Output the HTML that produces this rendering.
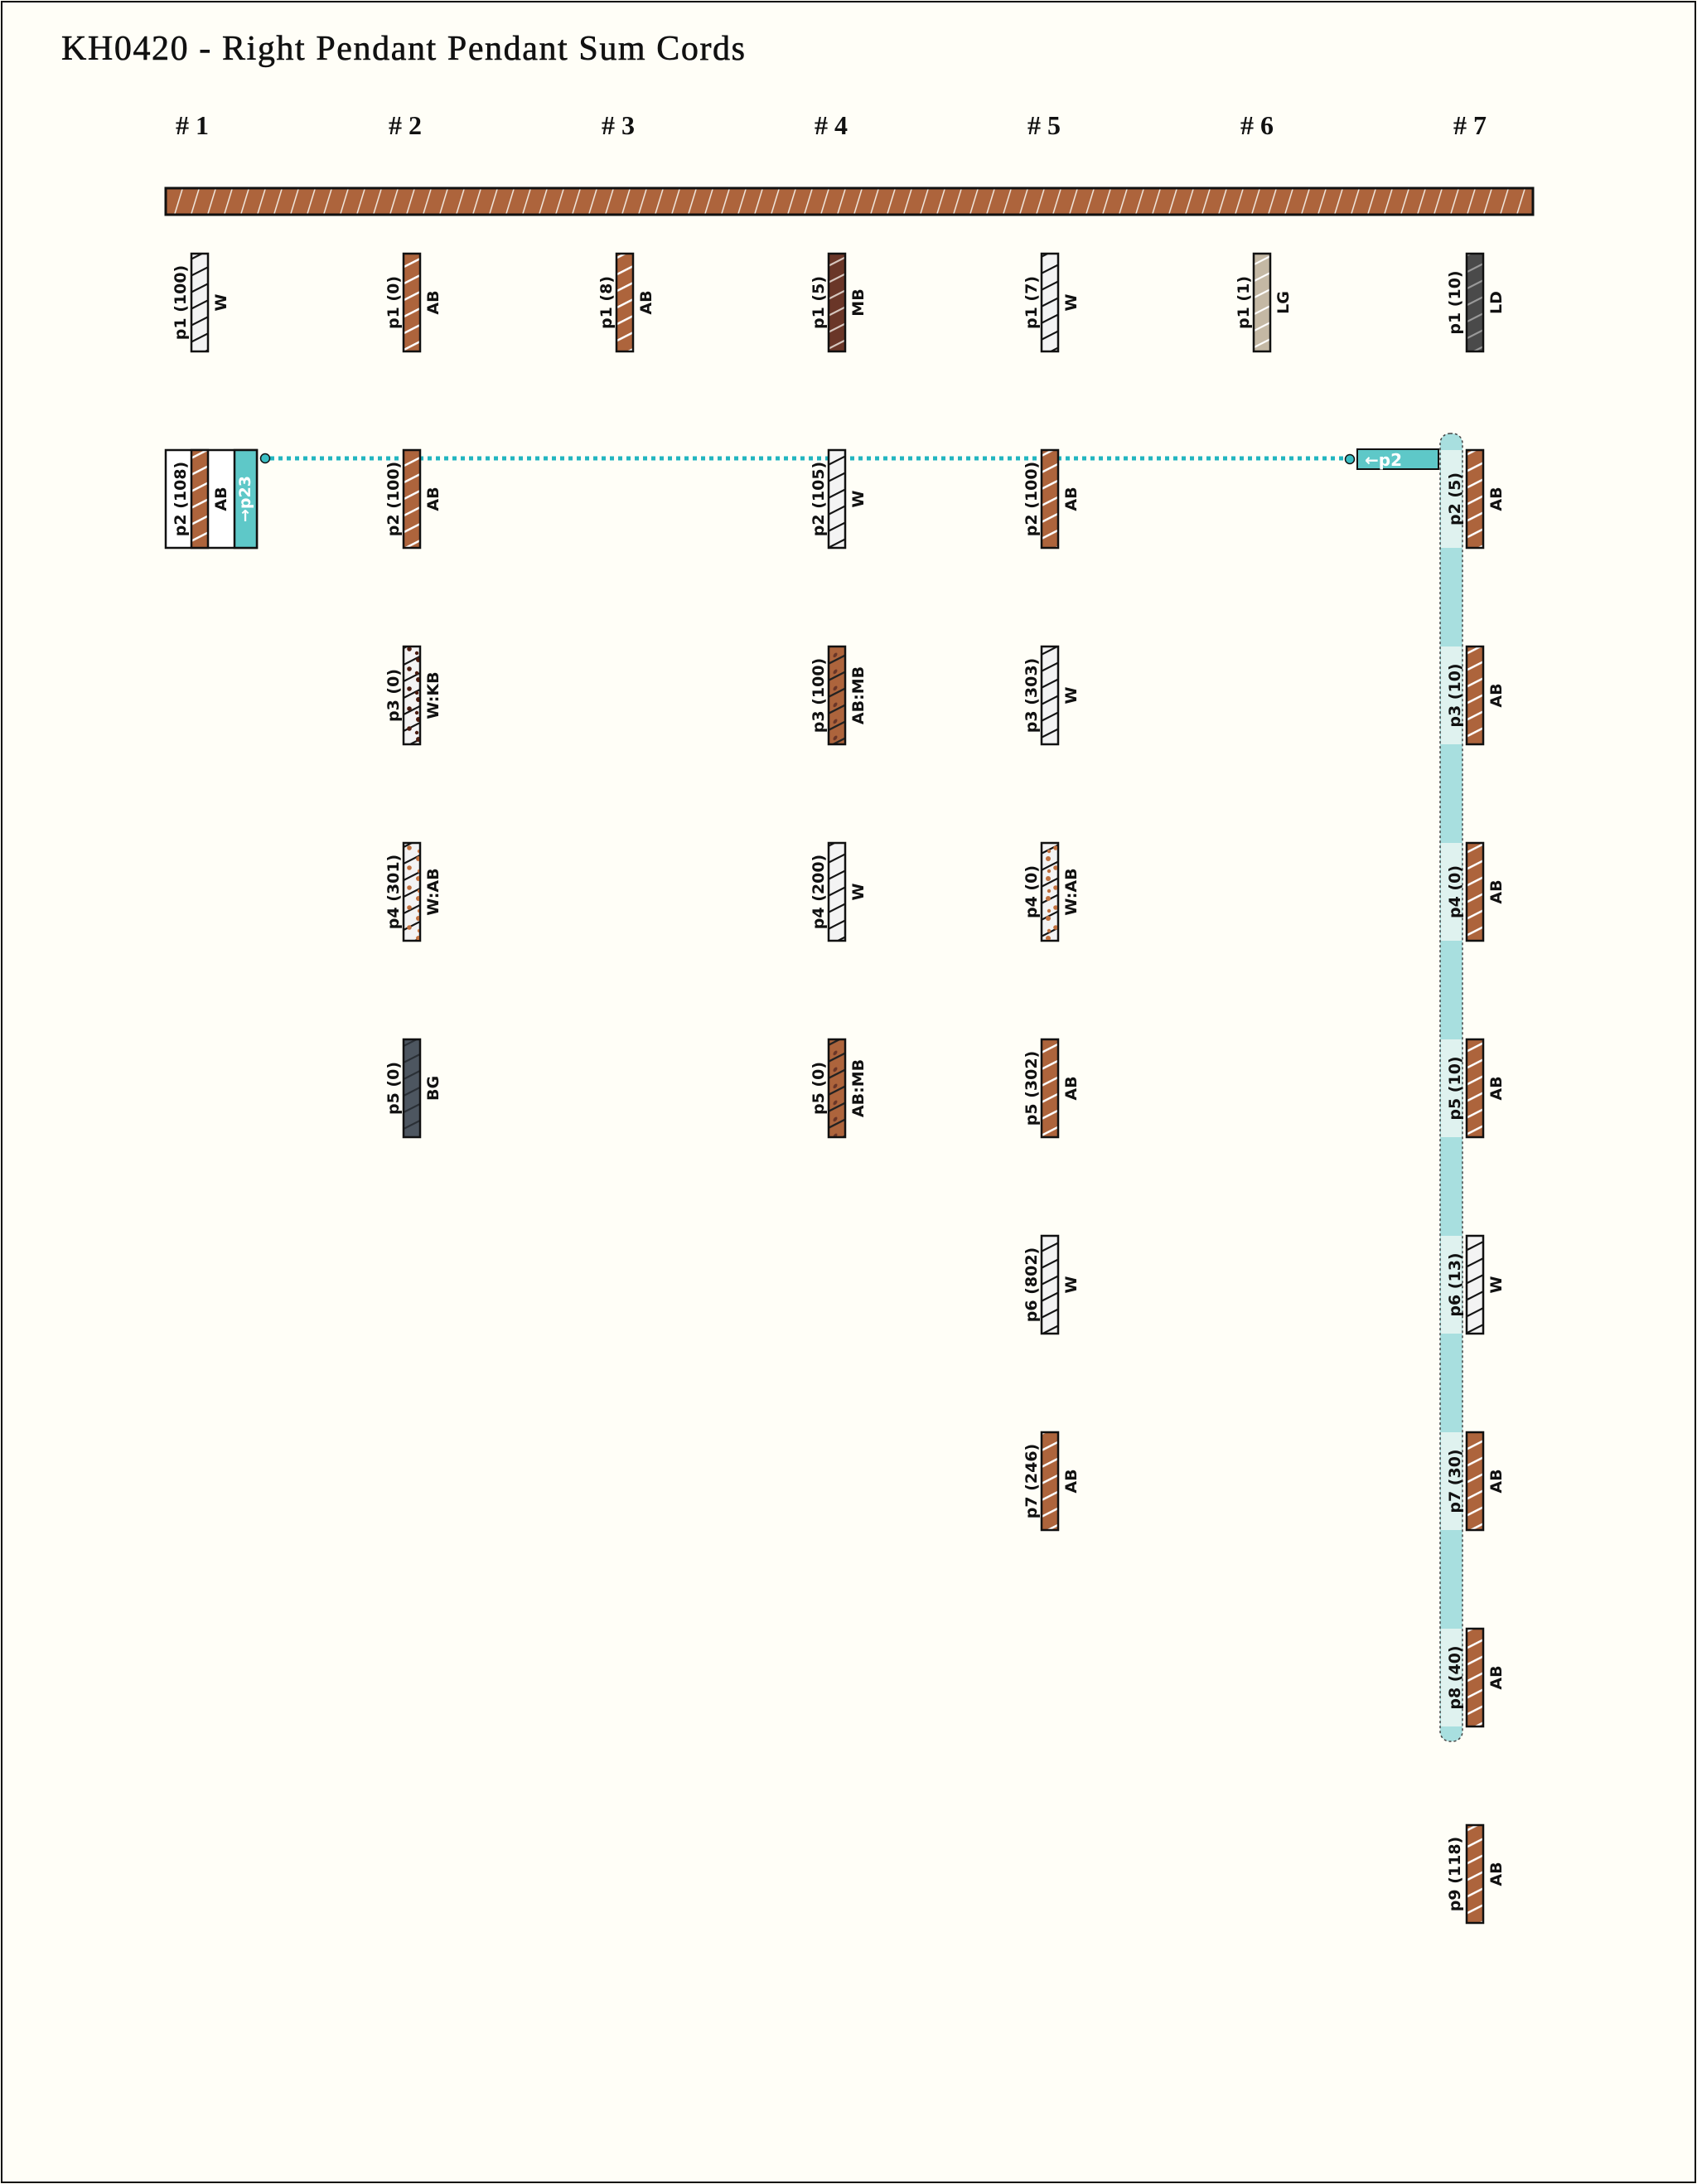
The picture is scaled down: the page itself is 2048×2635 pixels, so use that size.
<!DOCTYPE html>
<html><head><meta charset="utf-8"><style>
html,body{margin:0;padding:0;background:#fffef7}
svg{display:block}
.l{font-family:"DejaVu Sans","Liberation Sans",sans-serif;font-weight:bold;font-size:19px;fill:#111;text-anchor:middle;dominant-baseline:central}
.h{font-family:"Liberation Serif",serif;font-size:32px;font-weight:bold;fill:#111;text-anchor:middle}
</style></head><body>
<svg width="2048" height="2635" viewBox="0 0 2048 2635" xmlns="http://www.w3.org/2000/svg">
<defs>
<pattern id="ab" width="40" height="20" patternUnits="userSpaceOnUse" patternTransform="skewY(-27)"><rect width="40" height="20" fill="#ad643c"/><rect y="9" width="40" height="2.8" fill="#fff"/></pattern>
<pattern id="w" width="40" height="20" patternUnits="userSpaceOnUse" patternTransform="skewY(-27)"><rect width="40" height="20" fill="#f3f3f3"/><rect y="9" width="40" height="2.4" fill="#111"/></pattern>
<pattern id="mb" width="40" height="20" patternUnits="userSpaceOnUse" patternTransform="skewY(-27)"><rect width="40" height="20" fill="#6a3628"/><rect y="9" width="40" height="2.4" fill="#d8c8c0"/></pattern>
<pattern id="lg" width="40" height="20" patternUnits="userSpaceOnUse" patternTransform="skewY(-27)"><rect width="40" height="20" fill="#c4b8a4"/><rect y="9" width="40" height="2.4" fill="#fff"/></pattern>
<pattern id="ld" width="40" height="20" patternUnits="userSpaceOnUse" patternTransform="skewY(-27)"><rect width="40" height="20" fill="#4a4a4a"/><rect y="9" width="40" height="2.4" fill="#9a9a9a"/></pattern>
<pattern id="bg" width="40" height="20" patternUnits="userSpaceOnUse" patternTransform="skewY(-27)"><rect width="40" height="20" fill="#4d5660"/><rect y="9" width="40" height="2.4" fill="#2a2f35"/></pattern>
<pattern id="abmb" width="40" height="20" patternUnits="userSpaceOnUse" patternTransform="skewY(-27)"><rect width="40" height="20" fill="#ad643c"/><rect y="9" width="40" height="2.6" fill="#222"/><circle cx="8" cy="4" r="2.5" fill="#6a3628"/><circle cx="28" cy="15" r="2.5" fill="#6a3628"/></pattern>
<pattern id="dk" width="20" height="24" patternUnits="userSpaceOnUse"><circle cx="5" cy="4" r="3" fill="#4a1c10"/><circle cx="14" cy="15" r="2.8" fill="#4a1c10"/><circle cx="3" cy="20" r="2.2" fill="#4a1c10"/></pattern>
<pattern id="da" width="20" height="24" patternUnits="userSpaceOnUse"><circle cx="5" cy="4" r="3" fill="#c0703f"/><circle cx="14" cy="15" r="2.8" fill="#c0703f"/><circle cx="6" cy="19" r="2.2" fill="#c0703f"/></pattern>
<pattern id="bar" width="20" height="40" patternUnits="userSpaceOnUse" patternTransform="skewX(-17)"><rect width="20" height="40" fill="#ad643c"/><rect x="9" width="1.6" height="40" fill="#f0e6dc"/></pattern>
</defs>
<rect x="2" y="2" width="2044" height="2631" fill="#fffef7" stroke="#111" stroke-width="2"/>
<text x="74" y="72" font-family="Liberation Serif, serif" font-size="42" fill="#111" textLength="825" stroke="#111" stroke-width="0.6">KH0420 - Right Pendant Pendant Sum Cords</text>
<g class="h">
<text x="232" y="162"># 1</text><text x="489" y="162"># 2</text><text x="746" y="162"># 3</text><text x="1003" y="162"># 4</text><text x="1260" y="162"># 5</text><text x="1517" y="162"># 6</text><text x="1774" y="162"># 7</text>
</g>
<rect x="200" y="227" width="1650" height="32" fill="url(#bar)" stroke="#111" stroke-width="3"/>

<rect x="1738" y="523" width="27" height="1578" rx="12" fill="#a8dfdf" stroke="#444" stroke-width="1.5" stroke-dasharray="3 3"/>
<g fill="#dff2ef">
<rect x="1739" y="543" width="25" height="118"/><rect x="1739" y="780" width="25" height="118"/><rect x="1739" y="1017" width="25" height="118"/><rect x="1739" y="1254" width="25" height="118"/><rect x="1739" y="1491" width="25" height="118"/><rect x="1739" y="1728" width="25" height="118"/><rect x="1739" y="1965" width="25" height="118"/>
</g>

<line x1="326" y1="553" x2="1623" y2="553" stroke="#22b5c0" stroke-width="5" stroke-dasharray="5 5"/>
<circle cx="320" cy="553" r="5.5" fill="#3bbfc4" stroke="#111" stroke-width="1.5"/>
<circle cx="1629" cy="554" r="5.5" fill="#3bbfc4" stroke="#111" stroke-width="1.5"/>
<rect x="1638" y="542" width="98" height="24" fill="#5ec8c8" stroke="#111" stroke-width="2"/>
<text x="1647" y="562" font-family="DejaVu Sans, sans-serif" font-weight="bold" font-size="20" fill="#fff">←p2</text>

<rect x="200" y="543" width="110" height="118" fill="#fff" stroke="#111" stroke-width="2.5"/>
<rect x="283" y="543" width="27" height="118" fill="#5ec8c8" stroke="#111" stroke-width="2.5"/>
<rect x="231" y="543" width="20" height="118" fill="url(#ab)" stroke="#111" stroke-width="2.5"/>
<text class="l" transform="translate(218,602) rotate(-90)">p2 (108)</text>
<text class="l" transform="translate(267,602) rotate(-90)">AB</text>
<text class="l" style="fill:#fff" transform="translate(296,602) rotate(-90)">→p23</text>

<g stroke="#111" stroke-width="2.5">
<rect x="231" y="306" width="20" height="118" fill="url(#w)"/>
<rect x="487" y="306" width="20" height="118" fill="url(#ab)"/>
<rect x="487" y="543" width="20" height="118" fill="url(#ab)"/>
<rect x="487" y="780" width="20" height="118" fill="url(#w)"/>
<rect x="487" y="1017" width="20" height="118" fill="url(#w)"/>
<rect x="487" y="1254" width="20" height="118" fill="url(#bg)"/>
<rect x="744" y="306" width="20" height="118" fill="url(#ab)"/>
<rect x="1000" y="306" width="20" height="118" fill="url(#mb)"/>
<rect x="1000" y="543" width="20" height="118" fill="url(#w)"/>
<rect x="1000" y="780" width="20" height="118" fill="url(#abmb)"/>
<rect x="1000" y="1017" width="20" height="118" fill="url(#w)"/>
<rect x="1000" y="1254" width="20" height="118" fill="url(#abmb)"/>
<rect x="1257" y="306" width="20" height="118" fill="url(#w)"/>
<rect x="1257" y="543" width="20" height="118" fill="url(#ab)"/>
<rect x="1257" y="780" width="20" height="118" fill="url(#w)"/>
<rect x="1257" y="1017" width="20" height="118" fill="url(#w)"/>
<rect x="1257" y="1254" width="20" height="118" fill="url(#ab)"/>
<rect x="1257" y="1491" width="20" height="118" fill="url(#w)"/>
<rect x="1257" y="1728" width="20" height="118" fill="url(#ab)"/>
<rect x="1513" y="306" width="20" height="118" fill="url(#lg)"/>
<rect x="1770" y="306" width="20" height="118" fill="url(#ld)"/>
<rect x="1770" y="543" width="20" height="118" fill="url(#ab)"/>
<rect x="1770" y="780" width="20" height="118" fill="url(#ab)"/>
<rect x="1770" y="1017" width="20" height="118" fill="url(#ab)"/>
<rect x="1770" y="1254" width="20" height="118" fill="url(#ab)"/>
<rect x="1770" y="1491" width="20" height="118" fill="url(#w)"/>
<rect x="1770" y="1728" width="20" height="118" fill="url(#ab)"/>
<rect x="1770" y="1965" width="20" height="118" fill="url(#ab)"/>
<rect x="1770" y="2202" width="20" height="118" fill="url(#ab)"/>
</g>
<rect x="488" y="781" width="18" height="116" fill="url(#dk)"/>
<rect x="488" y="1018" width="18" height="116" fill="url(#da)"/>
<rect x="1258" y="1018" width="18" height="116" fill="url(#da)"/>

<g class="l">
<text transform="translate(218,365) rotate(-90)">p1 (100)</text><text transform="translate(267,365) rotate(-90)">W</text>

<text transform="translate(475,365) rotate(-90)">p1 (0)</text><text transform="translate(523,365) rotate(-90)">AB</text>
<text transform="translate(475,602) rotate(-90)">p2 (100)</text><text transform="translate(523,602) rotate(-90)">AB</text>
<text transform="translate(475,839) rotate(-90)">p3 (0)</text><text transform="translate(523,839) rotate(-90)">W:KB</text>
<text transform="translate(475,1076) rotate(-90)">p4 (301)</text><text transform="translate(523,1076) rotate(-90)">W:AB</text>
<text transform="translate(475,1313) rotate(-90)">p5 (0)</text><text transform="translate(523,1313) rotate(-90)">BG</text>

<text transform="translate(732,365) rotate(-90)">p1 (8)</text><text transform="translate(780,365) rotate(-90)">AB</text>

<text transform="translate(988,365) rotate(-90)">p1 (5)</text><text transform="translate(1036,365) rotate(-90)">MB</text>
<text transform="translate(988,602) rotate(-90)">p2 (105)</text><text transform="translate(1036,602) rotate(-90)">W</text>
<text transform="translate(988,839) rotate(-90)">p3 (100)</text><text transform="translate(1036,839) rotate(-90)">AB:MB</text>
<text transform="translate(988,1076) rotate(-90)">p4 (200)</text><text transform="translate(1036,1076) rotate(-90)">W</text>
<text transform="translate(988,1313) rotate(-90)">p5 (0)</text><text transform="translate(1036,1313) rotate(-90)">AB:MB</text>

<text transform="translate(1245,365) rotate(-90)">p1 (7)</text><text transform="translate(1293,365) rotate(-90)">W</text>
<text transform="translate(1245,602) rotate(-90)">p2 (100)</text><text transform="translate(1293,602) rotate(-90)">AB</text>
<text transform="translate(1245,839) rotate(-90)">p3 (303)</text><text transform="translate(1293,839) rotate(-90)">W</text>
<text transform="translate(1245,1076) rotate(-90)">p4 (0)</text><text transform="translate(1293,1076) rotate(-90)">W:AB</text>
<text transform="translate(1245,1313) rotate(-90)">p5 (302)</text><text transform="translate(1293,1313) rotate(-90)">AB</text>
<text transform="translate(1245,1550) rotate(-90)">p6 (802)</text><text transform="translate(1293,1550) rotate(-90)">W</text>
<text transform="translate(1245,1787) rotate(-90)">p7 (246)</text><text transform="translate(1293,1787) rotate(-90)">AB</text>

<text transform="translate(1501,365) rotate(-90)">p1 (1)</text><text transform="translate(1549,365) rotate(-90)">LG</text>

<text transform="translate(1756,365) rotate(-90)">p1 (10)</text><text transform="translate(1806,365) rotate(-90)">LD</text>
<text transform="translate(1756,602) rotate(-90)">p2 (5)</text><text transform="translate(1806,602) rotate(-90)">AB</text>
<text transform="translate(1756,839) rotate(-90)">p3 (10)</text><text transform="translate(1806,839) rotate(-90)">AB</text>
<text transform="translate(1756,1076) rotate(-90)">p4 (0)</text><text transform="translate(1806,1076) rotate(-90)">AB</text>
<text transform="translate(1756,1313) rotate(-90)">p5 (10)</text><text transform="translate(1806,1313) rotate(-90)">AB</text>
<text transform="translate(1756,1550) rotate(-90)">p6 (13)</text><text transform="translate(1806,1550) rotate(-90)">W</text>
<text transform="translate(1756,1787) rotate(-90)">p7 (30)</text><text transform="translate(1806,1787) rotate(-90)">AB</text>
<text transform="translate(1756,2024) rotate(-90)">p8 (40)</text><text transform="translate(1806,2024) rotate(-90)">AB</text>
<text transform="translate(1756,2261) rotate(-90)">p9 (118)</text><text transform="translate(1806,2261) rotate(-90)">AB</text>
</g>
</svg>
</body></html>
